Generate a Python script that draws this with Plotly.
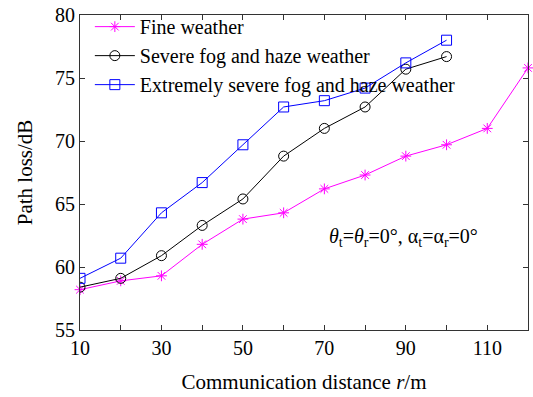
import plotly.graph_objects as go

distance_fine = [10, 20, 30, 40, 50, 60, 70, 80, 90, 100, 110, 120]
loss_fine = [58.2, 58.9, 59.3, 61.8, 63.8, 64.3, 66.2, 67.3, 68.8, 69.7, 71.0, 75.8]

distance_fog = [10, 20, 30, 40, 50, 60, 70, 80, 90, 100]
loss_fog = [58.4, 59.1, 60.9, 63.3, 65.4, 68.8, 71.0, 72.7, 75.7, 76.7]

loss_extreme = [59.1, 60.7, 64.3, 66.7, 69.7, 72.7, 73.2, 74.2, 76.2, 78.0]

x_ticks = [10, 20, 30, 40, 50, 60, 70, 80, 90, 100, 110, 120]
x_ticktext = ["10", "", "30", "", "50", "", "70", "", "90", "", "110", ""]
y_ticks = [55, 60, 65, 70, 75, 80]

font_family = "Liberation Serif, Times New Roman, serif"

fig = go.Figure()
fig.add_trace(go.Scatter(
    x=distance_fine, y=loss_fine, mode="lines+markers", name="Fine weather",
    line=dict(color="#ff00ff", width=1), cliponaxis=False,
    marker=dict(symbol="asterisk-open", size=9, color="#ff00ff", line=dict(color="#ff00ff", width=1)),
))
fig.add_trace(go.Scatter(
    x=distance_fog, y=loss_fog, mode="lines+markers", name="Severe fog and haze weather",
    line=dict(color="#000000", width=1),
    marker=dict(symbol="circle-open", size=10, color="#000000", line=dict(color="#000000", width=1)),
))
fig.add_trace(go.Scatter(
    x=distance_fog, y=loss_extreme, mode="lines+markers", name="Extremely severe fog and haze weather",
    line=dict(color="#0000ff", width=1),
    marker=dict(symbol="square-open", size=10, color="#0000ff", line=dict(color="#0000ff", width=1)),
))

fig.add_annotation(
    x=0.722, y=0.295, xref="paper", yref="paper", showarrow=False,
    text="<i>θ</i><sub>t</sub>=<i>θ</i><sub>r</sub>=0°, α<sub>t</sub>=α<sub>r</sub>=0°",
    font=dict(family=font_family, size=20, color="black"), xanchor="center", yanchor="middle",
)

fig.update_layout(
    width=533, height=397,
    margin=dict(l=80, r=5, t=15, b=67),
    paper_bgcolor="white", plot_bgcolor="white",
    font=dict(family=font_family, size=20, color="black"),
    showlegend=True,
    legend=dict(x=0.022, y=1.025, xanchor="left", yanchor="top", bgcolor="rgba(0,0,0,0)",
                font=dict(family=font_family, size=20), tracegroupgap=0, itemwidth=40),
    xaxis=dict(
        range=[10, 120], tickvals=x_ticks, ticktext=x_ticktext,
        ticks="inside", ticklen=5, tickcolor="#333", showline=True, linecolor="#333", linewidth=1,
        mirror="ticks", showgrid=False, zeroline=False,
        title=dict(text="Communication distance <i>r</i>/m", font=dict(size=21), standoff=16),
        tickfont=dict(size=20),
    ),
    yaxis=dict(
        range=[55, 80], tickvals=y_ticks,
        ticks="inside", ticklen=5, tickcolor="#333", showline=True, linecolor="#333", linewidth=1,
        mirror="ticks", showgrid=False, zeroline=False,
        title=dict(text="Path loss/dB", font=dict(size=21), standoff=16),
        tickfont=dict(size=20),
    ),
)

fig.write_html(
    "out.html",
    config={"displayModeBar": False},
    post_script="document.body.style.margin='0';document.body.style.overflow='hidden';",
)
